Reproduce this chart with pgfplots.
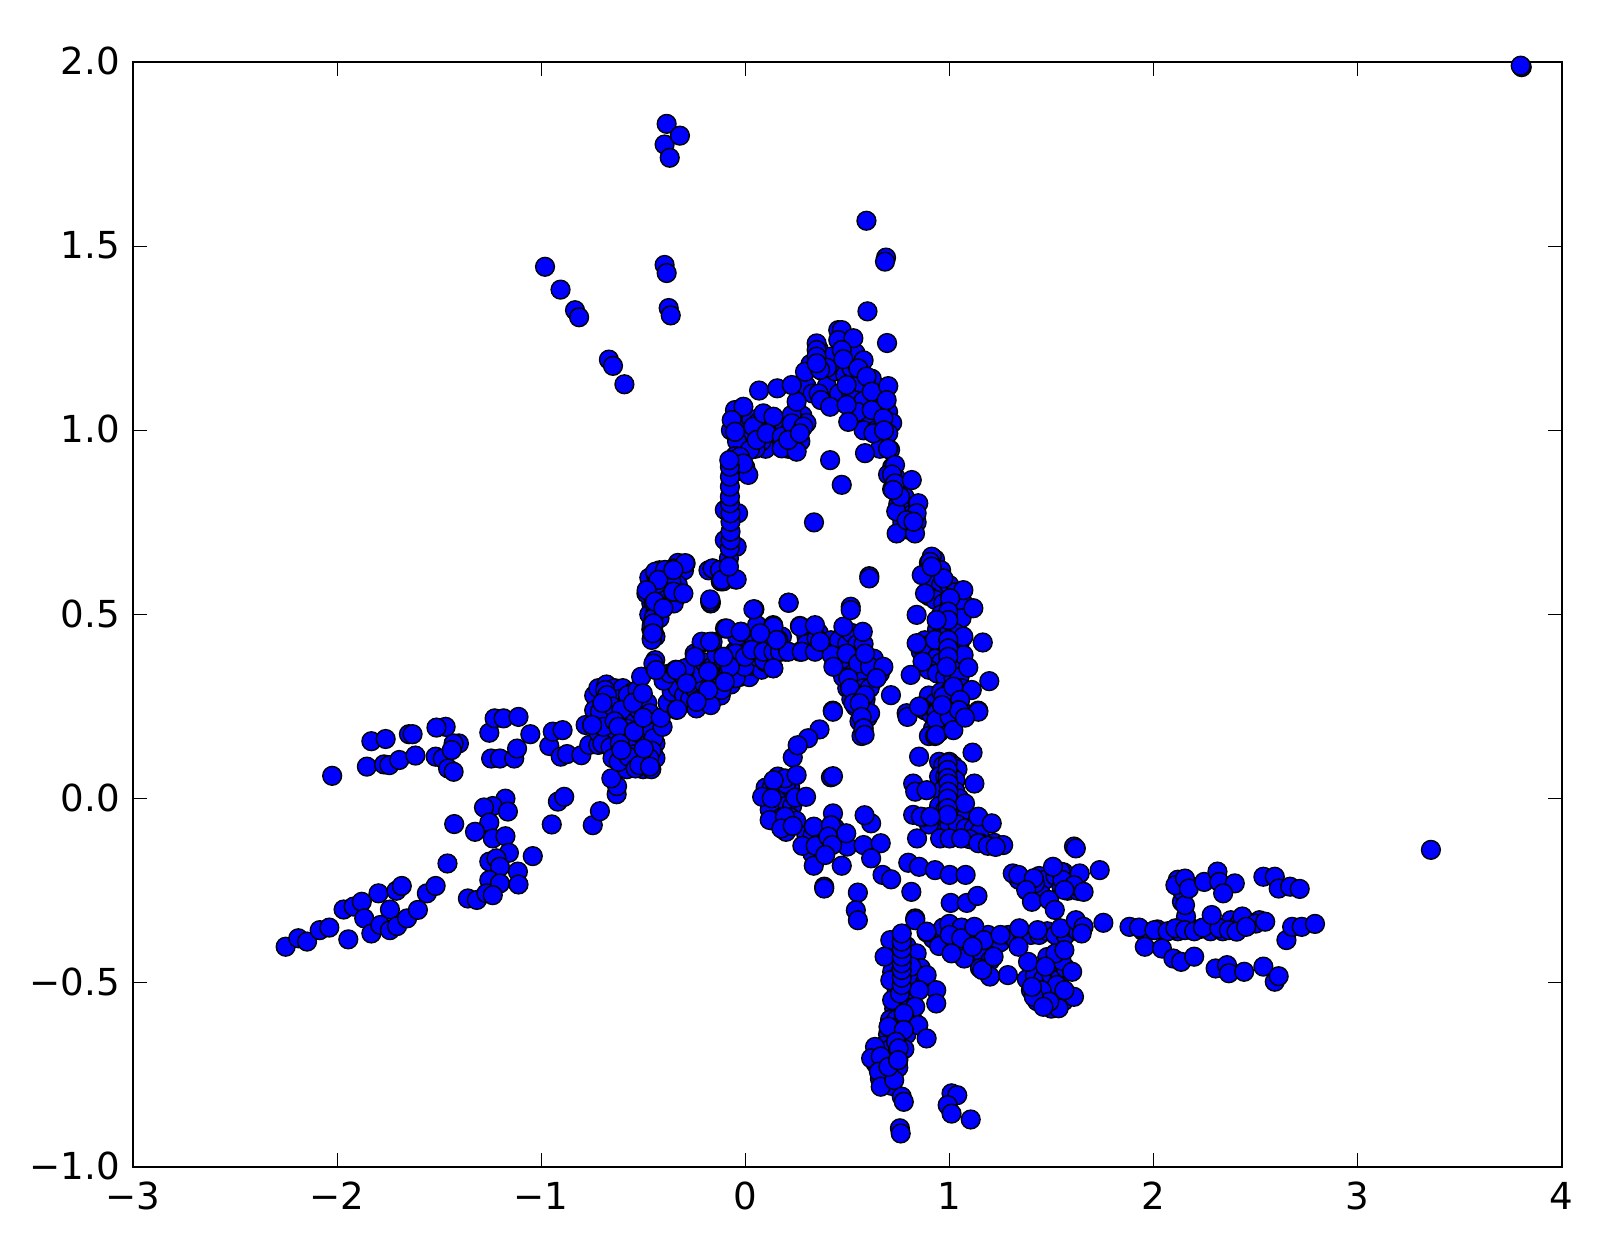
\documentclass[border=0pt]{standalone}
\usepackage{fontspec}
\setmainfont{DejaVu Sans}
\usepackage{pgfplots}
\pgfplotsset{compat=1.18}
\begin{document}
\begin{tikzpicture}
\useasboundingbox (-66.5pt,-42pt) rectangle (741pt,583.5pt);
\begin{axis}[
    at={(0pt,0pt)},anchor=south west,
    scale only axis,width=714.25pt,height=552.5pt,
    xmin=-3,xmax=4,ymin=-1,ymax=2,
    xtick={-3,-2,-1,0,1,2,3,4},
    xticklabels={−3,−2,−1,0,1,2,3,4},
    ytick={-1,-0.5,0,0.5,1,1.5,2},
    yticklabels={−1.0,−0.5,0.0,0.5,1.0,1.5,2.0},
    tick align=inside,
    major tick length=7pt,
    tick style={black,line width=0.5pt},
    axis line style={line width=1pt},
    ticklabel style={font=\fontsize{18.6}{22}\selectfont},
    xticklabel style={yshift=-4pt},
    yticklabel style={xshift=-3pt,yshift=0.5pt},
]
\addplot[only marks,mark=*,mark size=4.7pt,mark options={draw=black,fill=blue,line width=0.7pt}] coordinates {
% lower left tail
(-2.252,-0.402)(-2.190,-0.379)(-2.147,-0.388)(-2.085,-0.357)(-2.038,-0.350)(-1.945,-0.382)
(-1.968,-0.301)(-1.919,-0.293)(-1.879,-0.280)(-1.797,-0.257)(-1.709,-0.250)(-1.683,-0.237)
(-1.741,-0.301)(-1.867,-0.325)(-1.832,-0.366)(-1.788,-0.343)(-1.741,-0.357)(-1.706,-0.346)
(-1.657,-0.325)(-1.604,-0.302)(-1.560,-0.257)(-1.517,-0.237)(-1.459,-0.176)
% upper left branch
(-2.024,0.062)(-1.854,0.087)(-1.770,0.093)(-1.744,0.091)(-1.695,0.105)(-1.616,0.117)
(-1.517,0.114)(-1.482,0.109)(-1.456,0.082)(-1.429,0.073)(-1.403,0.150)(-1.429,0.150)(-1.438,0.132)
(-1.832,0.156)(-1.762,0.162)(-1.648,0.175)(-1.630,0.175)(-1.468,0.195)(-1.513,0.193)
(-1.254,0.179)(-1.228,0.218)(-1.184,0.218)(-1.111,0.222)(-1.053,0.175)(-1.245,0.109)
(-1.202,0.109)(-1.132,0.109)(-1.118,0.136)(-0.960,0.143)(-0.943,0.182)(-0.895,0.186)
(-0.904,0.114)(-0.873,0.121)(-0.803,0.118)(-0.782,0.200)(-0.764,0.146)(-0.720,0.146)
% lower middle
(-1.175,0.000)(-1.237,-0.020)(-1.280,-0.024)(-1.163,-0.035)(-1.254,-0.065)(-1.426,-0.069)
(-1.324,-0.090)(-1.237,-0.108)(-1.175,-0.102)(-1.158,-0.147)(-1.041,-0.156)(-1.254,-0.171)
(-1.219,-0.162)(-1.202,-0.185)(-1.114,-0.198)(-1.254,-0.221)(-1.202,-0.230)(-1.111,-0.233)
(-1.359,-0.271)(-1.315,-0.275)(-1.268,-0.257)(-1.237,-0.262)
(-0.918,-0.008)(-0.887,0.005)(-0.948,-0.070)(-0.747,-0.072)(-0.712,-0.034)(-0.630,0.012)(-0.628,0.034)(-0.656,0.055)
% main left blob
(-0.74,0.28)(-0.72,0.30)(-0.68,0.31)(-0.64,0.30)(-0.60,0.30)(-0.66,0.27)(-0.62,0.27)(-0.58,0.26)(-0.55,0.29)
(-0.74,0.24)(-0.70,0.23)(-0.66,0.23)(-0.60,0.22)(-0.56,0.23)(-0.52,0.24)(-0.48,0.26)(-0.75,0.20)(-0.72,0.18)
(-0.68,0.19)(-0.63,0.17)(-0.58,0.19)(-0.54,0.15)(-0.50,0.17)(-0.46,0.18)(-0.44,0.15)(-0.70,0.15)(-0.66,0.14)
(-0.60,0.12)(-0.56,0.10)(-0.52,0.12)(-0.48,0.10)(-0.46,0.13)(-0.44,0.11)(-0.58,0.08)(-0.50,0.08)(-0.46,0.08)
(-0.65,0.11)(-0.62,0.10)
(-0.686,0.295)(-0.677,0.281)(-0.575,0.281)(-0.528,0.295)(-0.510,0.331)(-0.712,0.236)(-0.650,0.250)
(-0.607,0.241)(-0.550,0.260)(-0.700,0.260)(-0.467,0.232)(-0.502,0.286)(-0.694,0.195)(-0.750,0.200)
(-0.640,0.210)(-0.621,0.195)(-0.545,0.182)(-0.500,0.220)(-0.449,0.164)(-0.405,0.195)(-0.615,0.150)
(-0.414,0.220)(-0.458,0.130)(-0.470,0.110)(-0.550,0.120)(-0.572,0.114)(-0.607,0.132)(-0.537,0.082)
(-0.519,0.091)(-0.467,0.087)(-0.497,0.136)
% arc rising to the right
(-0.38,0.26)(-0.36,0.29)(-0.33,0.30)(-0.30,0.28)(-0.27,0.27)(-0.25,0.30)(-0.22,0.27)(-0.20,0.31)(-0.16,0.29)
(-0.14,0.32)(-0.12,0.28)(-0.10,0.34)(-0.07,0.31)(-0.05,0.35)(-0.03,0.33)(0.00,0.36)(0.02,0.33)(0.04,0.36)
(0.06,0.38)(0.08,0.35)(0.10,0.37)(-0.40,0.32)(-0.37,0.34)(-0.34,0.35)(-0.30,0.33)(-0.27,0.36)(-0.24,0.34)
(-0.20,0.37)(-0.16,0.36)(-0.14,0.39)(-0.12,0.35)(-0.08,0.38)(-0.05,0.40)(-0.02,0.41)(0.00,0.39)(0.02,0.42)
(0.05,0.40)(0.07,0.43)(0.10,0.41)(0.12,0.43)(0.14,0.39)(0.16,0.41)(0.12,0.37)(0.00,0.43)(-0.04,0.44)
(0.08,0.46)(0.10,0.45)(0.18,0.44)(0.18,0.40)
(-0.441,0.354)(-0.441,0.376)(-0.336,0.241)(-0.239,0.263)(-0.239,0.245)(-0.178,0.295)(-0.169,0.254)
(-0.288,0.315)(-0.327,0.349)(-0.295,0.351)(-0.178,0.345)(-0.082,0.354)(-0.117,0.295)(-0.047,0.327)
(0.032,0.403)(-0.003,0.358)(0.058,0.385)(0.137,0.354)(0.093,0.376)(-0.248,0.394)(-0.213,0.423)
(-0.160,0.426)(-0.099,0.462)(-0.020,0.453)(0.045,0.514)(0.212,0.532)(0.058,0.471)(0.137,0.471)
(-0.169,0.535)(-0.169,0.530)(0.268,0.469)(0.163,0.431)(0.093,0.440)(0.198,0.399)(0.268,0.399)(-0.099,0.385)(-0.047,0.394)
% upper left cluster
(-0.47,0.60)(-0.44,0.61)(-0.42,0.62)(-0.38,0.61)(-0.35,0.60)(-0.33,0.64)(-0.30,0.62)(-0.40,0.58)(-0.37,0.57)
(-0.33,0.58)(-0.42,0.55)(-0.39,0.54)(-0.35,0.53)(-0.46,0.53)(-0.47,0.50)(-0.44,0.51)(-0.42,0.49)(-0.46,0.46)
(-0.44,0.44)(-0.18,0.62)(-0.14,0.62)(-0.12,0.59)(-0.09,0.61)(-0.06,0.60)
(-0.441,0.616)(-0.353,0.625)(-0.432,0.584)(-0.292,0.639)(-0.160,0.625)(-0.082,0.630)(-0.047,0.595)
(-0.108,0.590)(-0.484,0.557)(-0.353,0.562)(-0.309,0.557)(-0.449,0.532)(-0.414,0.521)(-0.449,0.490)
(-0.458,0.471)(-0.458,0.435)(-0.449,0.453)(-0.362,0.589)
(-0.393,0.621)(-0.295,0.639)(-0.426,0.594)(-0.352,0.621)(-0.483,0.566)(-0.352,0.562)(-0.303,0.557)
(-0.442,0.535)(-0.401,0.517)(-0.450,0.476)(-0.458,0.431)(-0.453,0.449)(-0.172,0.535)(-0.172,0.541)
(-0.450,0.367)(-0.437,0.349)
% outliers, top
(-0.385,1.832)(-0.395,1.776)(-0.370,1.740)(-0.320,1.800)(-0.981,1.444)(-0.905,1.382)(-0.834,1.326)
(-0.814,1.307)(-0.395,1.449)(-0.385,1.427)(-0.375,1.332)(-0.365,1.312)(-0.668,1.192)(-0.648,1.175)
(-0.592,1.125)(0.594,1.569)(0.690,1.469)(0.685,1.458)(0.599,1.323)(0.695,1.237)
% arch
(0.36,1.22)(0.38,1.16)(0.40,1.12)(0.42,1.20)(0.44,1.16)(0.46,1.10)(0.48,1.25)(0.49,1.15)(0.50,1.21)(0.52,1.17)
(0.52,1.10)(0.54,1.21)(0.56,1.13)(0.58,1.19)(0.58,1.08)(0.60,1.02)(0.62,1.14)(0.64,1.10)(0.55,1.05)(0.58,1.00)
(0.66,1.05)(0.64,1.00)(0.68,0.98)(0.66,0.95)(0.70,1.05)(0.72,1.02)(0.30,1.12)(0.33,1.10)(0.36,1.10)(0.40,1.17)(0.32,1.18)
(-0.03,1.04)(0.00,1.02)(0.03,1.03)(0.06,1.02)(0.08,1.00)(0.11,1.03)(0.14,1.01)(0.16,0.98)(0.19,1.00)(0.22,1.00)
(0.25,1.02)(0.28,1.04)(0.24,0.97)(0.21,0.95)(0.13,0.97)(0.10,0.95)(0.08,0.97)(0.05,0.95)(0.03,0.97)(0.00,0.98)
(-0.02,0.95)(-0.04,0.97)(-0.07,1.00)(0.27,0.97)(0.30,1.02)(0.00,0.90)(-0.03,0.89)(-0.05,0.93)
(-0.050,1.055)(-0.009,1.064)(-0.066,1.028)(-0.050,0.996)(0.040,1.010)(0.089,1.046)(0.138,1.037)
(0.023,0.947)(-0.026,0.928)(0.015,0.879)(-0.009,0.910)(0.056,0.974)(0.105,0.992)(0.179,0.983)
(0.179,0.951)(0.252,0.942)(0.228,1.042)(0.228,1.019)(0.285,1.010)(0.252,1.078)(0.211,0.974)(0.268,0.992)
(0.068,1.108)(0.157,1.114)(0.228,1.123)(0.293,1.159)(0.367,1.164)(0.350,1.236)(0.350,1.218)
(0.350,1.200)(0.350,1.182)(0.456,1.272)(0.473,1.272)(0.456,1.245)(0.530,1.250)(0.473,1.218)(0.481,1.193)
(0.554,1.168)(0.497,1.123)(0.371,1.082)(0.416,1.064)(0.497,1.069)(0.505,1.023)(0.595,1.146)(0.620,1.105)
(0.701,1.120)(0.620,1.055)(0.677,1.033)(0.693,1.082)(0.628,0.992)(0.701,0.992)(0.710,0.947)(0.587,0.938)
(0.416,0.919)(0.473,0.852)(0.337,0.750)
(0.68,1.00)(0.70,0.95)(0.72,0.90)(0.70,0.88)(0.74,0.87)(0.72,0.84)(0.76,0.84)(0.75,0.80)(0.78,0.82)(0.78,0.78)
(0.81,0.77)(0.77,0.75)(0.80,0.73)(0.84,0.75)(0.74,0.78)
(0.734,0.906)(0.719,0.880)(0.734,0.856)(0.816,0.865)(0.759,0.820)(0.848,0.802)(0.725,0.838)(0.840,0.775)(0.742,0.720)(0.791,0.756)(0.832,0.720)(0.824,0.752)
(-0.100,0.784)(-0.035,0.775)(-0.100,0.702)(-0.042,0.684)(-0.160,0.625)(-0.124,0.621)(-0.115,0.594)(-0.042,0.595)
(-0.080,0.652)(-0.080,0.630)(-0.076,0.680)(-0.072,0.702)(-0.072,0.725)(-0.072,0.752)(-0.072,0.775)
(-0.075,0.802)(-0.075,0.820)(-0.075,0.847)(-0.075,0.874)(-0.075,0.901)(-0.078,0.919)
% lower arc
(0.30,0.44)(0.33,0.45)(0.36,0.45)(0.30,0.42)(0.38,0.41)(0.42,0.43)(0.46,0.43)(0.50,0.42)(0.52,0.45)(0.55,0.42)
(0.58,0.42)(0.60,0.36)(0.52,0.37)(0.47,0.37)(0.50,0.30)(0.53,0.34)(0.56,0.33)(0.63,0.38)(0.66,0.34)(0.48,0.33)
(0.52,0.27)(0.55,0.29)(0.58,0.30)(0.61,0.30)(0.54,0.25)(0.57,0.25)(0.59,0.27)(0.60,0.22)(0.56,0.21)(0.58,0.19)(0.57,0.17)
(-0.295,0.354)(-0.336,0.349)(-0.213,0.426)(-0.172,0.426)(-0.246,0.385)(-0.287,0.313)(-0.181,0.345)
(-0.181,0.295)(-0.238,0.263)(-0.333,0.242)(-0.075,0.358)(-0.100,0.317)(-0.107,0.385)(-0.001,0.385)
(0.032,0.404)(0.089,0.399)(0.138,0.399)(0.170,0.399)(0.211,0.399)(0.277,0.399)(0.342,0.399)(0.138,0.354)
(-0.091,0.462)(-0.022,0.453)(0.040,0.514)(0.213,0.532)(0.269,0.467)(0.350,0.435)(0.342,0.471)(0.138,0.467)
(0.154,0.431)(0.073,0.449)(0.481,0.467)(0.517,0.521)(0.517,0.512)(0.608,0.604)(0.608,0.598)(0.576,0.453)
(0.424,0.390)(0.497,0.394)(0.554,0.367)(0.611,0.358)(0.677,0.358)(0.644,0.327)(0.505,0.327)(0.432,0.358)
(0.587,0.394)(0.367,0.426)(0.514,0.300)(0.587,0.281)(0.714,0.281)(0.429,0.239)(0.579,0.241)(0.530,0.259)(0.612,0.232)
% right column, upper part
(0.90,0.64)(0.93,0.65)(0.96,0.62)(0.90,0.60)(0.93,0.59)(0.96,0.58)(1.00,0.58)(1.03,0.56)(0.90,0.55)(0.93,0.54)
(0.97,0.53)(1.00,0.52)(1.04,0.52)(1.07,0.53)(0.96,0.50)(1.00,0.49)(1.03,0.48)(1.06,0.49)(0.94,0.46)(0.97,0.46)
(1.00,0.46)(1.03,0.45)(0.88,0.43)(0.91,0.42)(0.95,0.42)(0.98,0.40)(1.02,0.42)(1.05,0.42)(0.86,0.40)(0.89,0.39)
(0.93,0.38)(0.96,0.37)(1.01,0.37)(1.04,0.37)(1.07,0.39)(0.90,0.35)(0.94,0.34)(0.98,0.33)(1.02,0.33)(1.05,0.33)
(0.90,0.28)(0.93,0.26)(0.96,0.29)(1.00,0.29)(1.03,0.27)(1.06,0.30)(0.88,0.24)(0.91,0.23)(0.94,0.21)(0.97,0.23)
(1.00,0.24)(1.03,0.22)(1.06,0.24)(0.92,0.19)(0.95,0.18)(0.98,0.20)(0.90,0.17)(0.93,0.17)
(0.865,0.607)(0.971,0.598)(0.914,0.657)(0.906,0.643)(0.914,0.630)(1.069,0.566)(0.881,0.557)(1.004,0.544)
(1.118,0.517)(0.840,0.499)(0.995,0.508)(0.995,0.485)(0.938,0.485)(0.865,0.413)(0.930,0.431)(1.069,0.440)
(1.164,0.424)(0.995,0.431)(0.995,0.408)(0.995,0.385)(0.869,0.372)(1.093,0.356)(0.811,0.336)(0.840,0.422)
(1.196,0.319)(1.110,0.295)(0.971,0.277)(1.020,0.304)(0.857,0.250)(0.938,0.232)(1.142,0.239)(1.053,0.268)
(1.044,0.240)(0.791,0.232)(0.987,0.240)(0.987,0.358)
(0.795,0.222)(0.852,0.250)(0.936,0.213)(0.936,0.173)(1.002,0.222)(1.020,0.186)(1.048,0.240)(1.142,0.236)(0.964,0.254)(1.077,0.220)
% bowl near the origin
(0.10,0.03)(0.13,0.03)(0.16,0.02)(0.19,0.02)(0.22,0.03)(0.14,-0.02)(0.17,-0.03)(0.20,-0.02)(0.23,-0.02)(0.12,-0.03)
(0.14,-0.06)(0.18,-0.05)(0.22,-0.05)(0.25,-0.06)(0.20,-0.09)(0.16,0.06)(0.20,0.04)(0.30,-0.10)(0.33,-0.10)(0.37,-0.10)
(0.40,-0.10)(0.45,-0.10)(0.33,-0.15)(0.40,-0.13)(0.44,-0.08)(0.50,-0.13)
(0.430,0.236)(0.561,0.259)(0.570,0.222)(0.580,0.191)(0.585,0.173)(0.364,0.188)(0.308,0.164)(0.233,0.112)
(0.257,0.145)(0.420,0.058)(0.430,0.061)
(0.195,0.055)(0.252,0.064)(0.139,0.050)(0.083,0.005)(0.130,0.001)(0.246,0.003)(0.298,0.005)(0.120,-0.058)
(0.195,-0.049)(0.177,-0.081)(0.233,-0.074)(0.336,-0.076)(0.280,-0.128)(0.345,-0.128)(0.336,-0.182)
(0.430,-0.040)(0.420,-0.072)(0.407,-0.103)(0.426,-0.126)(0.495,-0.094)(0.473,-0.182)(0.392,-0.153)
(0.580,-0.126)(0.664,-0.121)(0.617,-0.067)(0.585,-0.045)(0.617,-0.162)(0.673,-0.207)(0.715,-0.219)
(0.387,-0.239)(0.387,-0.244)(0.552,-0.255)(0.542,-0.303)(0.552,-0.330)(0.814,-0.253)(0.799,-0.174)
(0.852,-0.185)(0.930,-0.194)(1.002,-0.207)(1.080,-0.207)(1.007,-0.283)(1.086,-0.283)(1.138,-0.264)
% right column, lower part
(0.95,0.10)(0.97,0.09)(1.00,0.10)(1.02,0.09)(1.04,0.08)(0.95,0.06)(0.98,0.06)(1.01,0.06)(1.03,0.05)(0.96,0.02)
(1.00,0.02)(1.03,0.02)(1.05,0.00)(0.95,-0.02)(0.98,-0.03)(1.02,-0.03)(1.05,-0.03)(1.08,-0.05)(0.95,-0.06)(1.00,-0.07)
(1.04,-0.07)(1.08,-0.08)(1.12,-0.08)(1.15,-0.09)(1.10,-0.11)(1.15,-0.12)(1.22,-0.12)(0.90,-0.07)(0.87,-0.05)
(0.852,0.114)(1.114,0.125)(1.123,0.041)(0.823,0.041)(0.833,0.019)(0.889,0.023)(0.992,0.096)(0.992,0.078)
(0.992,0.056)(0.996,0.041)(0.996,0.019)(0.992,0.000)(1.077,-0.013)(0.992,-0.026)(0.992,-0.044)(0.823,-0.044)
(0.861,-0.049)(0.908,-0.049)(1.142,-0.049)(1.208,-0.067)(0.842,-0.108)(0.955,-0.108)(1.002,-0.108)
(1.058,-0.108)(1.142,-0.121)(1.189,-0.128)(1.264,-0.126)(1.227,-0.131)
% band to the right
(0.92,-0.38)(0.95,-0.40)(0.97,-0.35)(1.00,-0.34)(1.03,-0.40)(1.06,-0.35)(1.09,-0.38)(1.13,-0.39)(1.08,-0.42)(1.12,-0.43)
(1.16,-0.42)(1.19,-0.37)(1.22,-0.40)(1.25,-0.39)(1.20,-0.44)(1.15,-0.46)(1.29,-0.37)(1.32,-0.38)(1.36,-0.37)(1.40,-0.37)
(1.44,-0.37)(1.48,-0.36)(1.52,-0.37)(1.57,-0.37)(1.60,-0.35)(1.63,-0.36)
(1.95,-0.36)(2.02,-0.355)(2.12,-0.36)(2.18,-0.35)(2.22,-0.355)(2.28,-0.36)(2.34,-0.36)(2.38,-0.33)(2.42,-0.34)(2.47,-0.34)(2.52,-0.33)
(2.16,-0.32)(2.14,-0.28)(2.14,-0.25)(2.12,-0.22)
(0.833,-0.325)(0.889,-0.363)(1.002,-0.370)(1.058,-0.379)(1.123,-0.348)(1.170,-0.384)(1.251,-0.370)
(1.343,-0.352)(1.433,-0.357)(1.545,-0.352)(1.620,-0.330)(1.658,-0.348)(1.755,-0.337)(1.883,-0.348)
(1.930,-0.350)(2.005,-0.357)(2.070,-0.360)(2.108,-0.352)(2.155,-0.357)(2.200,-0.360)(2.243,-0.350)
(2.323,-0.352)(2.370,-0.357)(2.286,-0.316)(2.436,-0.320)(2.502,-0.339)(2.548,-0.334)(2.408,-0.361)
(2.455,-0.348)(2.652,-0.384)(2.680,-0.348)(2.727,-0.348)(2.792,-0.340)
(1.958,-0.402)(2.042,-0.407)(2.098,-0.434)(2.136,-0.443)(2.200,-0.429)(2.155,-0.289)(2.108,-0.235)
(2.155,-0.217)(2.174,-0.244)(2.249,-0.226)(2.314,-0.198)(2.323,-0.226)(2.399,-0.230)(2.342,-0.257)
(2.539,-0.212)(2.595,-0.212)(2.614,-0.244)(2.670,-0.239)(2.717,-0.245)
(2.305,-0.461)(2.361,-0.452)(2.370,-0.474)(2.445,-0.470)(2.539,-0.456)(2.595,-0.497)(2.614,-0.482)
(3.360,-0.139)(3.805,1.986)(3.800,1.990)
% cluster above the band
(1.34,-0.22)(1.38,-0.25)(1.44,-0.21)(1.47,-0.22)(1.52,-0.21)(1.56,-0.20)(1.59,-0.22)(1.62,-0.23)(1.55,-0.24)(1.58,-0.25)
(1.63,-0.25)(1.45,-0.26)(1.42,-0.23)
(1.311,-0.203)(1.339,-0.207)(1.414,-0.216)(1.377,-0.248)(1.405,-0.280)(1.489,-0.275)(1.517,-0.302)
(1.545,-0.198)(1.555,-0.221)(1.611,-0.130)(1.620,-0.135)(1.737,-0.194)(1.639,-0.203)(1.611,-0.235)
(1.658,-0.253)(1.564,-0.248)(1.508,-0.185)
% cluster under the band
(1.38,-0.49)(1.42,-0.48)(1.46,-0.49)(1.50,-0.48)(1.54,-0.49)(1.57,-0.46)(1.40,-0.52)(1.44,-0.53)(1.48,-0.54)(1.52,-0.53)
(1.56,-0.55)(1.43,-0.55)(1.50,-0.57)(1.55,-0.44)(1.48,-0.43)(1.52,-0.42)
(1.564,-0.411)(1.386,-0.443)(1.471,-0.456)(1.602,-0.470)(1.527,-0.506)(1.452,-0.520)(1.611,-0.538)
(1.536,-0.569)(1.490,-0.551)(1.414,-0.538)(1.405,-0.511)(1.564,-0.520)(1.461,-0.565)(1.287,-0.479)
(1.199,-0.483)(1.161,-0.465)(1.073,-0.434)(1.217,-0.429)(1.011,-0.420)(1.114,-0.402)(1.339,-0.402)(1.649,-0.366)
% vertical pile at the bottom
(0.73,-0.40)(0.79,-0.40)(0.72,-0.44)(0.75,-0.43)(0.80,-0.44)(0.84,-0.42)(0.72,-0.47)(0.76,-0.47)(0.80,-0.47)(0.86,-0.46)
(0.73,-0.50)(0.80,-0.50)(0.83,-0.50)(0.88,-0.50)(0.74,-0.53)(0.78,-0.53)(0.82,-0.54)(0.73,-0.57)(0.77,-0.56)(0.80,-0.57)
(0.71,-0.60)(0.74,-0.60)(0.78,-0.60)(0.82,-0.60)(0.70,-0.64)(0.73,-0.63)(0.76,-0.65)(0.79,-0.64)(0.68,-0.67)(0.71,-0.68)
(0.75,-0.68)(0.78,-0.68)(0.68,-0.72)(0.72,-0.72)(0.75,-0.73)(0.64,-0.72)(0.66,-0.76)(0.70,-0.76)(0.72,-0.78)(0.67,-0.71)(0.75,-0.71)
(0.711,-0.384)(0.683,-0.429)(0.711,-0.493)(0.720,-0.547)(0.814,-0.456)(0.889,-0.479)(0.936,-0.520)(0.936,-0.556)
(0.852,-0.520)(0.833,-0.565)(0.777,-0.583)(0.702,-0.619)(0.848,-0.615)(0.889,-0.651)(0.777,-0.628)(0.739,-0.660)
(0.636,-0.674)(0.617,-0.705)(0.664,-0.700)(0.655,-0.741)(0.664,-0.782)(0.730,-0.764)(0.702,-0.728)(0.752,-0.678)(0.749,-0.710)
(0.767,-0.809)(0.777,-0.823)(0.758,-0.895)(0.762,-0.909)(1.011,-0.800)(1.039,-0.805)(0.992,-0.832)(1.011,-0.855)(1.105,-0.871)
(0.758,-0.529)(0.767,-0.506)(0.767,-0.486)(0.767,-0.465)(0.767,-0.447)(0.767,-0.429)(0.767,-0.408)(0.767,-0.388)(0.767,-0.366)
(0.833,-0.330)(0.889,-0.361)
};
\end{axis}
\end{tikzpicture}
\end{document}
